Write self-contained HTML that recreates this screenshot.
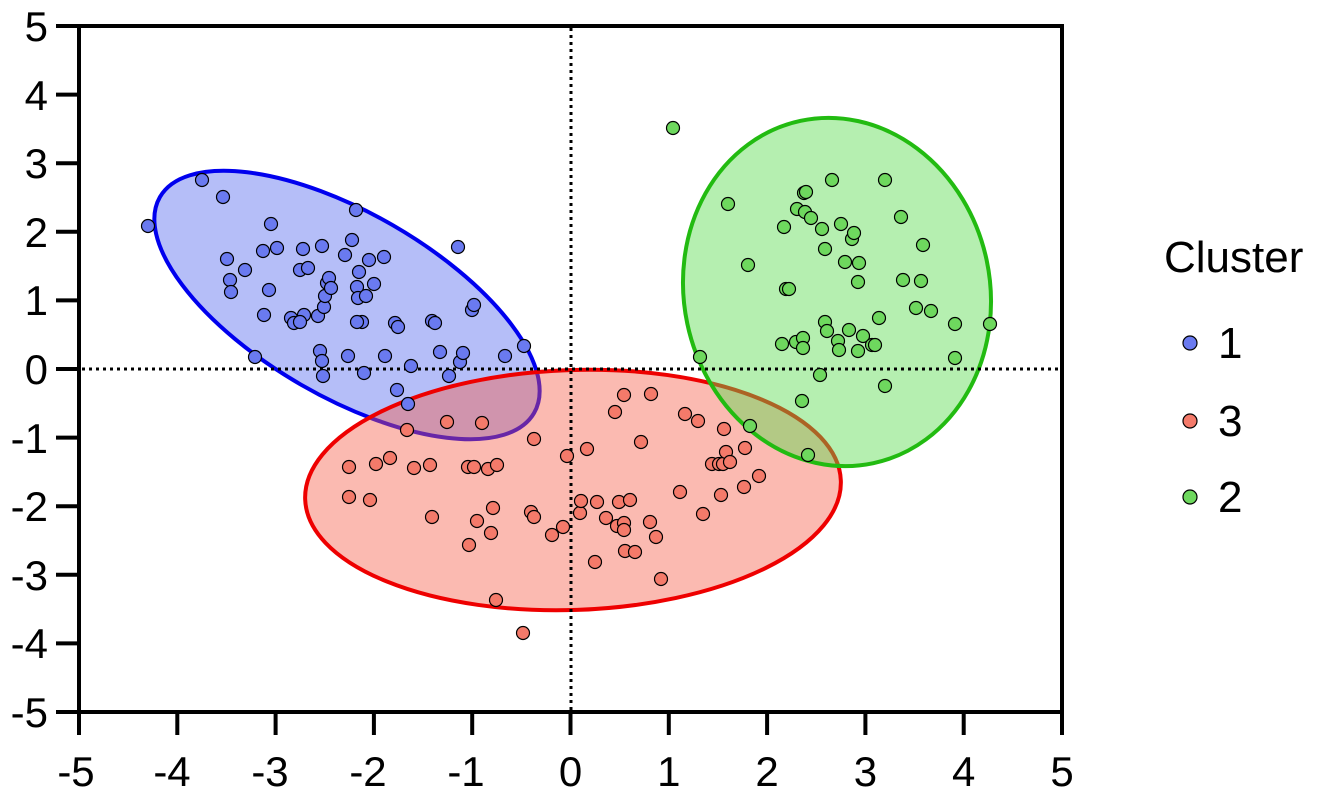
<!DOCTYPE html>
<html><head><meta charset="utf-8"><style>
html,body{margin:0;padding:0;background:#fff;}
svg{display:block;font-family:"Liberation Sans",Arial,sans-serif;}
</style></head><body>
<svg width="1321" height="796" viewBox="0 0 1321 796" xmlns="http://www.w3.org/2000/svg">
<g stroke-width="4">
<ellipse cx="347" cy="305" rx="216" ry="92" transform="rotate(30 347 305)" fill="rgba(90,110,240,0.45)" stroke="#0000ee"/>
<ellipse cx="573" cy="490" rx="268" ry="120" transform="rotate(-2 573 490)" fill="rgba(245,90,70,0.42)" stroke="#ee0000"/>
<ellipse cx="837" cy="292" rx="153" ry="175" transform="rotate(-12 837 292)" fill="rgba(90,220,80,0.45)" stroke="#22bb11"/>
</g>
<g stroke="#000" stroke-width="3" stroke-dasharray="3,4">
<line x1="571" y1="28" x2="571" y2="710"/>
<line x1="82" y1="369" x2="1060" y2="369"/>
</g>
<g stroke="#000" stroke-width="1.2" fill="#6a7af0">
<circle cx="148" cy="226" r="6.5"/><circle cx="202" cy="180" r="6.5"/><circle cx="223" cy="197" r="6.5"/><circle cx="227" cy="259" r="6.5"/><circle cx="230" cy="280" r="6.5"/><circle cx="231" cy="292" r="6.5"/><circle cx="245" cy="270" r="6.5"/><circle cx="255" cy="357" r="6.5"/><circle cx="263" cy="251" r="6.5"/><circle cx="264" cy="315" r="6.5"/><circle cx="269" cy="290" r="6.5"/><circle cx="271" cy="224" r="6.5"/><circle cx="277" cy="248" r="6.5"/><circle cx="291" cy="318" r="6.5"/><circle cx="294" cy="323" r="6.5"/><circle cx="300" cy="270" r="6.5"/><circle cx="303" cy="249" r="6.5"/><circle cx="304" cy="315" r="6.5"/><circle cx="308" cy="268" r="6.5"/><circle cx="318" cy="316" r="6.5"/><circle cx="322" cy="246" r="6.5"/><circle cx="320" cy="351" r="6.5"/><circle cx="322" cy="361" r="6.5"/><circle cx="323" cy="376" r="6.5"/><circle cx="324" cy="307" r="6.5"/><circle cx="325" cy="296" r="6.5"/><circle cx="327" cy="283" r="6.5"/><circle cx="329" cy="278" r="6.5"/><circle cx="331" cy="288" r="6.5"/><circle cx="345" cy="255" r="6.5"/><circle cx="348" cy="356" r="6.5"/><circle cx="352" cy="240" r="6.5"/><circle cx="356" cy="210" r="6.5"/><circle cx="357" cy="287" r="6.5"/><circle cx="358" cy="298" r="6.5"/><circle cx="359" cy="272" r="6.5"/><circle cx="362" cy="322" r="6.5"/><circle cx="364" cy="373" r="6.5"/><circle cx="366" cy="296" r="6.5"/><circle cx="369" cy="260" r="6.5"/><circle cx="374" cy="284" r="6.5"/><circle cx="384" cy="257" r="6.5"/><circle cx="385" cy="356" r="6.5"/><circle cx="395" cy="323" r="6.5"/><circle cx="397" cy="390" r="6.5"/><circle cx="398" cy="327" r="6.5"/><circle cx="408" cy="404" r="6.5"/><circle cx="411" cy="366" r="6.5"/><circle cx="432" cy="321" r="6.5"/><circle cx="435" cy="323" r="6.5"/><circle cx="440" cy="352" r="6.5"/><circle cx="449" cy="376" r="6.5"/><circle cx="458" cy="247" r="6.5"/><circle cx="460" cy="362" r="6.5"/><circle cx="463" cy="353" r="6.5"/><circle cx="472" cy="310" r="6.5"/><circle cx="474" cy="305" r="6.5"/><circle cx="505" cy="356" r="6.5"/><circle cx="524" cy="346" r="6.5"/><circle cx="300" cy="322" r="6.5"/><circle cx="357" cy="322" r="6.5"/>
</g>
<g stroke="#000" stroke-width="1.2" fill="#f47a6a">
<circle cx="349" cy="467" r="6.5"/><circle cx="349" cy="497" r="6.5"/><circle cx="370" cy="500" r="6.5"/><circle cx="376" cy="464" r="6.5"/><circle cx="390" cy="458" r="6.5"/><circle cx="407" cy="430" r="6.5"/><circle cx="414" cy="468" r="6.5"/><circle cx="430" cy="465" r="6.5"/><circle cx="432" cy="517" r="6.5"/><circle cx="447" cy="422" r="6.5"/><circle cx="468" cy="467" r="6.5"/><circle cx="469" cy="545" r="6.5"/><circle cx="474" cy="467" r="6.5"/><circle cx="477" cy="521" r="6.5"/><circle cx="482" cy="423" r="6.5"/><circle cx="488" cy="469" r="6.5"/><circle cx="491" cy="533" r="6.5"/><circle cx="493" cy="508" r="6.5"/><circle cx="497" cy="465" r="6.5"/><circle cx="496" cy="600" r="6.5"/><circle cx="523" cy="633" r="6.5"/><circle cx="531" cy="512" r="6.5"/><circle cx="534" cy="517" r="6.5"/><circle cx="534" cy="439" r="6.5"/><circle cx="552" cy="535" r="6.5"/><circle cx="563" cy="527" r="6.5"/><circle cx="567" cy="456" r="6.5"/><circle cx="580" cy="513" r="6.5"/><circle cx="581" cy="501" r="6.5"/><circle cx="587" cy="449" r="6.5"/><circle cx="595" cy="562" r="6.5"/><circle cx="597" cy="502" r="6.5"/><circle cx="606" cy="518" r="6.5"/><circle cx="615" cy="412" r="6.5"/><circle cx="617" cy="526" r="6.5"/><circle cx="619" cy="502" r="6.5"/><circle cx="624" cy="523" r="6.5"/><circle cx="624" cy="530" r="6.5"/><circle cx="625" cy="551" r="6.5"/><circle cx="630" cy="500" r="6.5"/><circle cx="635" cy="552" r="6.5"/><circle cx="624" cy="395" r="6.5"/><circle cx="641" cy="442" r="6.5"/><circle cx="650" cy="522" r="6.5"/><circle cx="651" cy="394" r="6.5"/><circle cx="656" cy="537" r="6.5"/><circle cx="661" cy="579" r="6.5"/><circle cx="680" cy="492" r="6.5"/><circle cx="685" cy="414" r="6.5"/><circle cx="698" cy="421" r="6.5"/><circle cx="703" cy="514" r="6.5"/><circle cx="712" cy="464" r="6.5"/><circle cx="719" cy="464" r="6.5"/><circle cx="721" cy="495" r="6.5"/><circle cx="723" cy="464" r="6.5"/><circle cx="724" cy="429" r="6.5"/><circle cx="726" cy="452" r="6.5"/><circle cx="730" cy="462" r="6.5"/><circle cx="744" cy="487" r="6.5"/><circle cx="745" cy="448" r="6.5"/><circle cx="759" cy="476" r="6.5"/>
</g>
<g stroke="#000" stroke-width="1.2" fill="#6ed85e">
<circle cx="673" cy="128" r="6.5"/><circle cx="700" cy="357" r="6.5"/><circle cx="728" cy="204" r="6.5"/><circle cx="748" cy="265" r="6.5"/><circle cx="750" cy="426" r="6.5"/><circle cx="782" cy="344" r="6.5"/><circle cx="784" cy="227" r="6.5"/><circle cx="786" cy="289" r="6.5"/><circle cx="789" cy="289" r="6.5"/><circle cx="796" cy="342" r="6.5"/><circle cx="797" cy="209" r="6.5"/><circle cx="802" cy="401" r="6.5"/><circle cx="803" cy="338" r="6.5"/><circle cx="803" cy="348" r="6.5"/><circle cx="804" cy="193" r="6.5"/><circle cx="805" cy="212" r="6.5"/><circle cx="806" cy="192" r="6.5"/><circle cx="808" cy="455" r="6.5"/><circle cx="811" cy="218" r="6.5"/><circle cx="820" cy="375" r="6.5"/><circle cx="822" cy="229" r="6.5"/><circle cx="825" cy="249" r="6.5"/><circle cx="825" cy="322" r="6.5"/><circle cx="827" cy="331" r="6.5"/><circle cx="832" cy="180" r="6.5"/><circle cx="838" cy="341" r="6.5"/><circle cx="839" cy="350" r="6.5"/><circle cx="841" cy="224" r="6.5"/><circle cx="845" cy="262" r="6.5"/><circle cx="849" cy="330" r="6.5"/><circle cx="852" cy="239" r="6.5"/><circle cx="854" cy="233" r="6.5"/><circle cx="859" cy="263" r="6.5"/><circle cx="858" cy="282" r="6.5"/><circle cx="858" cy="351" r="6.5"/><circle cx="863" cy="336" r="6.5"/><circle cx="872" cy="345" r="6.5"/><circle cx="875" cy="345" r="6.5"/><circle cx="879" cy="318" r="6.5"/><circle cx="885" cy="386" r="6.5"/><circle cx="885" cy="180" r="6.5"/><circle cx="901" cy="217" r="6.5"/><circle cx="903" cy="280" r="6.5"/><circle cx="916" cy="308" r="6.5"/><circle cx="921" cy="281" r="6.5"/><circle cx="923" cy="245" r="6.5"/><circle cx="931" cy="311" r="6.5"/><circle cx="955" cy="324" r="6.5"/><circle cx="955" cy="358" r="6.5"/><circle cx="990" cy="324" r="6.5"/>
</g>
<rect x="79" y="26" width="983" height="686" fill="none" stroke="#000" stroke-width="4"/>
<g stroke="#000" stroke-width="4">
<line x1="56" y1="26" x2="79" y2="26"/><line x1="56" y1="94.6" x2="79" y2="94.6"/><line x1="56" y1="163.2" x2="79" y2="163.2"/><line x1="56" y1="231.8" x2="79" y2="231.8"/><line x1="56" y1="300.4" x2="79" y2="300.4"/><line x1="56" y1="369" x2="79" y2="369"/><line x1="56" y1="437.6" x2="79" y2="437.6"/><line x1="56" y1="506.2" x2="79" y2="506.2"/><line x1="56" y1="574.8" x2="79" y2="574.8"/><line x1="56" y1="643.4" x2="79" y2="643.4"/><line x1="56" y1="712" x2="79" y2="712"/>
<line x1="79" y1="712" x2="79" y2="735"/><line x1="177.3" y1="712" x2="177.3" y2="735"/><line x1="275.6" y1="712" x2="275.6" y2="735"/><line x1="373.9" y1="712" x2="373.9" y2="735"/><line x1="472.2" y1="712" x2="472.2" y2="735"/><line x1="570.5" y1="712" x2="570.5" y2="735"/><line x1="668.8" y1="712" x2="668.8" y2="735"/><line x1="767.1" y1="712" x2="767.1" y2="735"/><line x1="865.4" y1="712" x2="865.4" y2="735"/><line x1="963.7" y1="712" x2="963.7" y2="735"/><line x1="1062" y1="712" x2="1062" y2="735"/>
</g>
<g font-size="42" text-anchor="end" fill="#000">
<text x="48" y="41">5</text><text x="48" y="110">4</text><text x="48" y="178">3</text><text x="48" y="247">2</text><text x="48" y="315">1</text><text x="48" y="384">0</text><text x="48" y="453">-1</text><text x="48" y="521">-2</text><text x="48" y="590">-3</text><text x="48" y="658">-4</text><text x="48" y="727">-5</text>
</g>
<g font-size="42" text-anchor="middle" fill="#000">
<text x="76" y="786">-5</text><text x="172" y="786">-4</text><text x="270" y="786">-3</text><text x="368" y="786">-2</text><text x="466" y="786">-1</text><text x="570.5" y="786">0</text><text x="668.8" y="786">1</text><text x="767.1" y="786">2</text><text x="865.4" y="786">3</text><text x="963.7" y="786">4</text><text x="1062" y="786">5</text>
</g>
<text x="1164" y="272" font-size="44" fill="#000">Cluster</text>
<g stroke="#000" stroke-width="1.2">
<circle cx="1190" cy="343" r="7" fill="#6a7af0"/><circle cx="1190" cy="421" r="7" fill="#f47a6a"/><circle cx="1190" cy="497" r="7" fill="#6ed85e"/>
</g>
<g font-size="44" fill="#000">
<text x="1218" y="358">1</text><text x="1218" y="436">3</text><text x="1218" y="512">2</text>
</g>
</svg>
</body></html>
